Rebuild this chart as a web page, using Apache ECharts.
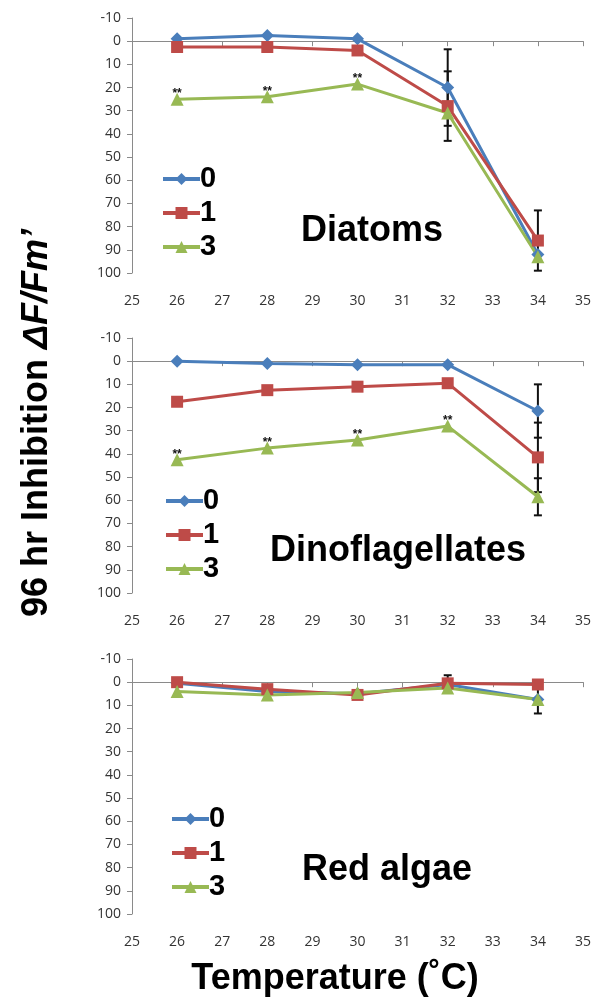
<!DOCTYPE html>
<html>
<head>
<meta charset="utf-8">
<script src="https://cdn.jsdelivr.net/npm/echarts@6/dist/echarts.min.js"></script>
<style>
html,body{margin:0;padding:0;background:#fff;}
#chart{width:595px;height:1000px;}
</style>
</head>
<body>
<div id="chart"></div>
<script>
// ---------- DATA ----------
const temps = [26, 28, 30, 32, 34];
const seriesNames = ['0', '1', '3'];
const panelTitles = ['Diatoms', 'Dinoflagellates', 'Red algae'];

// Diatoms
const diat0 = [-1, -2.5, -1, 20, 92];
const diat1 = [2.5, 2.5, 4, 28, 86];
const diat3 = [25, 24, 18.5, 31, 93];
const diat0Err = [0, 0, 0, 16.5, 0];
const diat1Err = [0, 0, 0, 15, 13];
const diat3Err = [0, 0, 0, 0, 0];
const diatSig = [1, 1, 1, 0, 0];

// Dinoflagellates
const dino0 = [0, 1, 1.5, 1.5, 21.5];
const dino1 = [17.5, 12.5, 11, 9.5, 41.5];
const dino3 = [42.5, 37.5, 34, 28, 58.5];
const dino0Err = [0, 0, 0, 0, 11.5];
const dino1Err = [0, 0, 0, 0, 15];
const dino3Err = [0, 0, 0, 0, 8];
const dinoSig = [1, 1, 1, 1, 0];

// Red algae
const red0 = [0.5, 4, 5, 1, 7.5];
const red1 = [0, 3, 5.5, 0.5, 1];
const red3 = [4, 5.5, 4.5, 2.5, 7.5];
const red0Err = [0, 0, 0, 0, 6];
const red1Err = [0, 0, 0, 3.5, 0];
const red3Err = [0, 0, 0, 0, 0];
const redSig = [0, 0, 0, 0, 0];

const yTickMin = -10, yTickMax = 100, yTickStep = 10;
const xTickMin = 25, xTickMax = 35, xTickStep = 1;

// ---------- STYLE ----------
const colors = ['#4A7EBB', '#BE4B48', '#98B954'];
const symbols = ['diamond', 'rect', 'triangle'];
const symbolSizes = [13, 12, 13];
const panels = [
  {vals: [diat0, diat1, diat3], errs: [diat0Err, diat1Err, diat3Err], sig: diatSig},
  {vals: [dino0, dino1, dino3], errs: [dino0Err, dino1Err, dino3Err], sig: dinoSig},
  {vals: [red0, red1, red3], errs: [red0Err, red1Err, red3Err], sig: redSig}
];
const gridTops = [18, 338, 659];
const gridHeight = 255;
const legendTops = [159, 481, 799];
const legendLefts = [156, 159, 165];
const titlePos = [[372, 231], [398, 551], [387, 870]];
const axisColor = '#8a8a8a';
const labelColor = '#333';
const tickFont = 'Open Sans';

const grid = [], xAxis = [], yAxis = [], series = [], legend = [], graphic = [];

panels.forEach((p, gi) => {
  grid.push({left: 132, right: 12, top: gridTops[gi], height: gridHeight});
  xAxis.push({
    type: 'value', gridIndex: gi, min: xTickMin, max: xTickMax, interval: xTickStep,
    axisLine: {show: true, lineStyle: {color: axisColor, width: 1}},
    axisTick: {show: true, length: 5, lineStyle: {color: axisColor}},
    axisLabel: {color: labelColor, fontSize: 14, fontFamily: tickFont, margin: 21},
    splitLine: {show: false}
  });
  yAxis.push({
    type: 'value', gridIndex: gi, inverse: true, min: yTickMin, max: yTickMax, interval: yTickStep,
    axisLine: {show: true, lineStyle: {color: axisColor, width: 1}},
    axisTick: {show: true, length: 5, lineStyle: {color: axisColor}},
    axisLabel: {color: labelColor, fontSize: 14, fontFamily: tickFont, margin: 11},
    splitLine: {show: false}
  });

  // error bars
  const errData = [];
  p.vals.forEach((vals, si) => {
    vals.forEach((v, i) => {
      if (p.errs[si][i] > 0) errData.push([temps[i], v, p.errs[si][i]]);
    });
  });
  series.push({
    type: 'custom', name: 'err' + gi, xAxisIndex: gi, yAxisIndex: gi, z: 1,
    silent: true, data: errData,
    encode: {x: 0, y: 1},
    renderItem: function (params, api) {
      const x = api.value(0), v = api.value(1), e = api.value(2);
      const top = api.coord([x, v - e]);
      const bot = api.coord([x, v + e]);
      const cap = 4;
      const st = {stroke: '#111', lineWidth: 2};
      return {type: 'group', children: [
        {type: 'line', shape: {x1: top[0], y1: top[1], x2: bot[0], y2: bot[1]}, style: st},
        {type: 'line', shape: {x1: top[0] - cap, y1: top[1], x2: top[0] + cap, y2: top[1]}, style: st},
        {type: 'line', shape: {x1: bot[0] - cap, y1: bot[1], x2: bot[0] + cap, y2: bot[1]}, style: st}
      ]};
    }
  });

  p.vals.forEach((vals, si) => {
    const data = vals.map((v, i) => {
      const item = {value: [temps[i], v]};
      if (si === 2 && p.sig[i]) {
        item.label = {show: true, position: 'top', distance: -7, formatter: '**',
          color: '#111', fontSize: 12, fontWeight: 'bold', fontFamily: 'Liberation Sans'};
      }
      return item;
    });
    series.push({
      type: 'line', name: seriesNames[si], xAxisIndex: gi, yAxisIndex: gi, z: 2,
      data: data, symbol: symbols[si], symbolSize: symbolSizes[si],
      lineStyle: {color: colors[si], width: 3},
      itemStyle: {color: colors[si], borderWidth: 0},
      emphasis: {disabled: true}, animation: false
    });
  });

  legend.push({
    orient: 'vertical', left: legendLefts[gi], top: legendTops[gi],
    data: seriesNames, itemWidth: 37, itemHeight: 15, itemGap: 4,
    selectedMode: false,
    lineStyle: {width: 4},
    textStyle: {fontSize: 29, fontWeight: 'bold', color: '#000', fontFamily: 'Liberation Sans', lineHeight: 30, padding: [0, 0, 0, -5]}
  });

  graphic.push({
    type: 'text', x: titlePos[gi][0], y: titlePos[gi][1],
    style: {text: panelTitles[gi], fontSize: 36, fontWeight: 'bold', fontFamily: 'Liberation Sans',
      fill: '#000', textAlign: 'center', textVerticalAlign: 'middle'}
  });
});

graphic.push({
  type: 'text', x: 37, y: 423, rotation: Math.PI / 2,
  style: {text: '96 hr Inhibition {i|ΔF/Fm’}', fontSize: 36, fontWeight: 'bold', fontFamily: 'Liberation Sans',
    fill: '#000', textAlign: 'center', textVerticalAlign: 'middle',
    rich: {i: {fontSize: 36, fontWeight: 'bold', fontStyle: 'italic', fontFamily: 'Liberation Sans', fill: '#000'}}}
});
graphic.push({
  type: 'text', x: 335, y: 979,
  style: {text: 'Temperature (˚C)', fontSize: 36, fontWeight: 'bold', fontFamily: 'Liberation Sans',
    fill: '#000', textAlign: 'center', textVerticalAlign: 'middle'}
});

const chart = echarts.init(document.getElementById('chart'), null, {renderer: 'canvas'});
chart.setOption({
  backgroundColor: '#fff', animation: false,
  grid, xAxis, yAxis, series, legend, graphic
});
</script>
</body>
</html>
